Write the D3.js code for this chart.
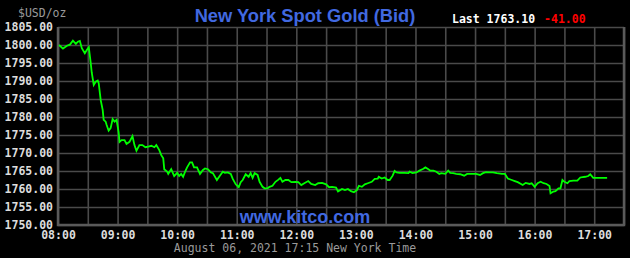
<!DOCTYPE html>
<html>
<head>
<meta charset="utf-8">
<script src="https://cdn.jsdelivr.net/npm/d3@7"></script>
<style>
  body { margin: 0; background: #000; }
  svg { display: block; }
  .mono { font-family: "DejaVu Sans Mono", monospace; }
</style>
</head>
<body>
<svg id="goldChart" width="630" height="258"></svg>
<script>
// data, Aug 06 2021
const times = [
  "08:01","08:05","08:09","08:12","08:15","08:18","08:20","08:22","08:24","08:27",
  "08:29","08:31","08:33","08:34","08:36","08:38","08:40","08:41","08:43","08:45",
  "08:46","08:48","08:49","08:51","08:53","08:55","08:57","08:59","09:01","09:02",
  "09:04","09:07","09:09","09:12","09:15","09:17","09:19","09:22","09:25","09:28",
  "09:31","09:34","09:37","09:39","09:42","09:44","09:46","09:47","09:50","09:51",
  "09:54","09:57","10:00","10:02","10:04","10:06","10:08","10:10","10:13","10:15",
  "10:17","10:20","10:23","10:26","10:28","10:31","10:34","10:36","10:40","10:43",
  "10:46","10:48","10:51","10:54","10:56","10:59","11:02","11:04","11:06","11:09",
  "11:12","11:14","11:16","11:18","11:21","11:23","11:26","11:28","11:31","11:33",
  "11:36","11:39","11:42","11:44","11:46","11:49","11:52","11:55","11:59","12:02",
  "12:05","12:08","12:12","12:15","12:19","12:22","12:26","12:30","12:33","12:36",
  "12:40","12:42","12:46","12:49","12:52","12:55","12:58","13:01","13:03","13:06",
  "13:09","13:12","13:16","13:19","13:22","13:23","13:26","13:29","13:32","13:34",
  "13:37","13:39","13:41","13:44","13:49","13:53","13:54","13:57","14:01","14:04",
  "14:08","14:10","14:13","14:15","14:18","14:21","14:24","14:26","14:30","14:33",
  "14:35","14:38","14:41","14:45","14:49","14:52","14:56","15:01","15:05","15:08",
  "15:11","15:15","15:18","15:22","15:27","15:30","15:33","15:37","15:40","15:43",
  "15:48","15:51","15:55","15:57","16:00","16:03","16:06","16:09","16:12","16:15",
  "16:16","16:19","16:21","16:24","16:26","16:28","16:30","16:33","16:35","16:39",
  "16:43","16:46","16:51","16:54","16:56","16:59","17:04","17:13"
];
const prices = [
  1800.0,1799.0,1799.8,1800.1,1801.2,1800.3,1800.9,1801.1,1799.1,1797.7,
  1798.6,1799.4,1794.9,1792.3,1788.9,1789.8,1790.1,1789.4,1784.7,1782.0,
  1779.2,1778.7,1777.8,1776.2,1776.9,1779.4,1778.7,1779.2,1775.9,1773.1,
  1773.6,1773.6,1772.5,1773.1,1774.7,1772.2,1770.6,1772.2,1772.2,1771.6,
  1771.8,1772.0,1771.6,1772.2,1770.8,1769.4,1768.5,1765.5,1764.8,1764.2,
  1765.5,1763.6,1764.5,1763.6,1764.2,1763.4,1764.8,1766.0,1767.4,1767.4,
  1766.0,1766.0,1764.2,1765.3,1765.7,1765.5,1764.6,1764.4,1762.5,1763.7,
  1764.8,1764.5,1764.6,1764.2,1762.8,1761.3,1760.5,1761.9,1762.5,1764.1,
  1763.4,1764.4,1763.1,1764.4,1763.9,1762.0,1760.6,1760.2,1760.2,1760.6,
  1760.9,1762.0,1762.6,1763.1,1762.0,1762.5,1762.5,1761.9,1762.0,1761.9,
  1761.1,1761.6,1762.2,1761.4,1761.1,1761.6,1761.7,1761.3,1760.5,1760.6,
  1760.4,1759.3,1760.0,1759.7,1760.0,1759.4,1759.1,1759.7,1760.9,1760.6,
  1761.3,1761.6,1762.0,1762.8,1762.9,1763.4,1762.9,1763.2,1762.5,1762.5,
  1763.7,1765.0,1764.6,1764.5,1764.5,1764.4,1764.8,1764.4,1764.6,1765.1,
  1765.6,1766.0,1765.5,1765.1,1765.1,1764.8,1764.2,1764.4,1764.2,1765.1,
  1764.5,1764.4,1764.2,1764.1,1763.7,1764.2,1764.2,1764.2,1763.9,1764.4,
  1764.7,1764.6,1764.6,1764.4,1764.2,1764.2,1762.9,1762.5,1762.2,1761.9,
  1761.1,1761.7,1761.4,1761.6,1760.6,1761.6,1762.0,1761.6,1761.4,1760.8,
  1758.8,1759.3,1759.4,1760.2,1760.2,1762.5,1762.0,1761.6,1762.2,1762.3,
  1762.3,1763.2,1763.4,1763.6,1764.1,1763.1,1763.1,1763.1
];
const yTicks = [1750, 1755, 1760, 1765, 1770, 1775, 1780, 1785, 1790, 1795, 1800, 1805];
const hourLabels = ["08:00","09:00","10:00","11:00","12:00","13:00","14:00","15:00","16:00","17:00"];
const lastPrice = "1763.10";
const change = "-41.00";
const dateLine = "August 06, 2021 17:15 New York Time";

const parseTime = d3.timeParse("%Y-%m-%d %H:%M");
const day = "2021-08-06";
const data = times.map((t, i) => ({ t: parseTime(`${day} ${t}`), v: prices[i] }));

const margin = { top: 27, right: 6, bottom: 33, left: 58 };
const W = 630, H = 258;
const width = W - margin.left - margin.right;
const height = H - margin.top - margin.bottom;

const svg = d3.select('svg#goldChart');
svg.append('rect').attr('width', W).attr('height', H).attr('fill', '#000');

const xScale = d3.scaleTime()
  .domain([parseTime(`${day} 08:00`), parseTime(`${day} 17:30`)])
  .range([0, width]);
const yScale = d3.scaleLinear()
  .domain([1750, 1805])
  .range([height, 0]);

const chartG = svg.append('g')
  .attr('transform', `translate(${margin.left},${margin.top})`);

// half-hour vertical grid
const halfHours = d3.timeMinute.every(30).range(xScale.domain()[0], d3.timeMinute.offset(xScale.domain()[1], 1));
chartG.append('g')
  .attr('class', 'x-grid')
  .attr('transform', `translate(0, ${height})`)
  .call(d3.axisBottom(xScale).tickValues(halfHours).tickSizeInner(-height).tickSizeOuter(0).tickFormat(''))
  .call(g => g.select('.domain').remove())
  .call(g => g.selectAll('line').attr('stroke', '#4a4a4a').attr('stroke-width', 1.6));

// horizontal grid + price labels
chartG.append('g')
  .attr('class', 'y-axis')
  .call(d3.axisLeft(yScale).tickValues(yTicks).tickSizeInner(-width).tickSizeOuter(0).tickPadding(5).tickFormat(d3.format('.2f')))
  .call(g => g.select('.domain').remove())
  .call(g => g.selectAll('line').attr('stroke', '#4a4a4a').attr('stroke-width', 1.6))
  .call(g => g.selectAll('text')
    .attr('class', 'mono')
    .attr('fill', '#dcdcdc')
    .style('font-size', '11.5px')
    .style('font-weight', 'bold'));

// hour labels
chartG.append('g')
  .attr('class', 'x-axis')
  .attr('transform', `translate(0, ${height})`)
  .call(d3.axisBottom(xScale)
    .tickValues(hourLabels.map(h => parseTime(`${day} ${h}`)))
    .tickSize(0).tickPadding(6)
    .tickFormat(d3.timeFormat('%H:%M')))
  .call(g => g.select('.domain').remove())
  .call(g => g.selectAll('text')
    .attr('class', 'mono')
    .attr('fill', '#dcdcdc')
    .style('font-size', '11.5px')
    .style('font-weight', 'bold'));

// frame: left and bottom a bit heavier
chartG.append('path')
  .attr('d', `M0,0V${height}H${width}V0`)
  .attr('fill', 'none')
  .attr('stroke', '#5a5a5a')
  .attr('stroke-width', 2.5);

const line = d3.line()
  .x(d => xScale(d.t))
  .y(d => yScale(d.v));

chartG.append('path')
  .datum(data)
  .attr('fill', 'none')
  .attr('stroke', '#00ff00')
  .attr('stroke-width', 1.8)
  .attr('stroke-linejoin', 'miter')
  .attr('d', line);

// titles and captions
svg.append('text')
  .attr('class', 'mono')
  .attr('x', 18).attr('y', 17)
  .attr('fill', '#9a9a9a')
  .style('font-size', '11.5px')
  .text('$USD/oz');

svg.append('text')
  .attr('x', 305).attr('y', 22)
  .attr('text-anchor', 'middle')
  .attr('fill', '#4169e1')
  .style('font-family', '"Liberation Sans", Arial, sans-serif')
  .style('font-weight', 'bold')
  .style('font-size', '18.3px')
  .text('New York Spot Gold (Bid)');

const lastText = svg.append('text')
  .attr('class', 'mono')
  .attr('x', 452).attr('y', 23)
  .style('font-size', '11.5px')
  .style('font-weight', 'bold');
lastText.append('tspan').attr('fill', '#ffffff').text(`Last ${lastPrice}`);
lastText.append('tspan').attr('fill', '#ff0000').attr('dx', 9).text(change);

svg.append('text')
  .attr('x', 305).attr('y', 223)
  .attr('text-anchor', 'middle')
  .attr('fill', '#4169e1')
  .style('font-family', '"Liberation Sans", Arial, sans-serif')
  .style('font-weight', 'bold')
  .style('font-size', '18px')
  .text('www.kitco.com');

svg.append('text')
  .attr('class', 'mono')
  .attr('x', 295).attr('y', 252)
  .attr('text-anchor', 'middle')
  .attr('fill', '#9a9a9a')
  .style('font-size', '11.5px')
  .text(dateLine);
</script>
</body>
</html>
